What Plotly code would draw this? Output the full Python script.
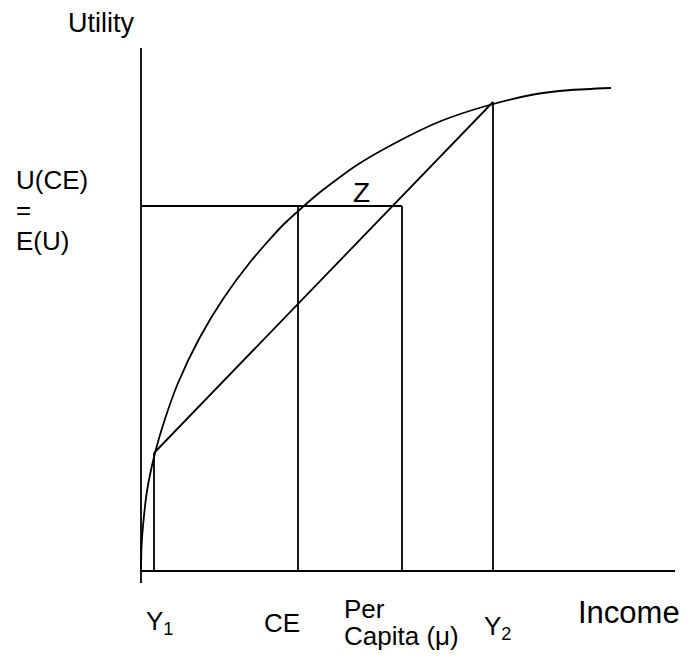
import plotly.graph_objects as go

# Abstract units: income (x) measured from the utility axis, utility (y) from the income axis
curve_income = [0, 0.5, 2, 6, 14, 24, 37, 58, 82, 110, 142, 178, 216, 258, 300, 345, 390, 430, 470]
curve_utility = [0, 24, 45, 80, 118, 152, 188, 232, 272, 310, 346, 378, 406, 430, 450, 465, 476, 481, 483]

income_points = {"Y1": 13, "CE": 157, "mu": 261, "Y2": 352}
utility_points = {"U_Y1": 118, "U_CE": 365, "U_Y2": 469}
axis_income_max = 534
axis_utility_max = 523
axis_utility_min = -12

BLACK = "#000000"
LW = 1.8
FONT = "Liberation Sans, Arial, sans-serif"

# the page adds an 8px body margin; the figure is sized to fit inside it
PAGE_OFF = 8
W, H = 687 - PAGE_OFF, 661 - PAGE_OFF
ORIGIN_X, ORIGIN_Y = 141 - PAGE_OFF, 571 - PAGE_OFF

fig = go.Figure()

def seg(xs, ys):
    fig.add_trace(go.Scatter(x=xs, y=ys, mode="lines",
                             line=dict(color=BLACK, width=LW),
                             hoverinfo="skip", showlegend=False))

# axes
seg([0, 0], [axis_utility_min, axis_utility_max])
seg([0, axis_income_max], [0, 0])

# utility curve
fig.add_trace(go.Scatter(x=curve_income, y=curve_utility, mode="lines",
                         line=dict(color=BLACK, width=LW, shape="spline", smoothing=0.6),
                         hoverinfo="skip", showlegend=False))

y1, ce, mu, y2 = income_points["Y1"], income_points["CE"], income_points["mu"], income_points["Y2"]
u1, uce, u2 = utility_points["U_Y1"], utility_points["U_CE"], utility_points["U_Y2"]

# chord
seg([y1, y2], [u1, u2])
# verticals
seg([y1, y1], [0, u1])
seg([ce, ce], [0, uce])
seg([mu, mu], [0, uce])
seg([y2, y2], [0, u2])
# horizontal U(CE) line
seg([0, mu], [uce, uce])

# labels: (text, left px, center px, size) in page pixels
labels = [
    ("Utility", 67, 23, 27),
    ("U(CE)", 15, 180, 26),
    ("=", 15, 210, 26),
    ("E(U)", 15, 241, 26),
    ("Z", 352, 192, 28),
    ("Y<sub>1</sub>", 145, 622, 26),
    ("CE", 263, 623, 26),
    ("Per", 343, 609, 26),
    ("Capita (μ)", 343, 636, 26),
    ("Y<sub>2</sub>", 483, 627, 26),
    ("Income", 577, 612, 31),
]
for text, px, py, size in labels:
    fig.add_annotation(x=px - 141, y=571 - py, xref="x", yref="y", text=text,
                       showarrow=False, xanchor="left", yanchor="middle",
                       font=dict(family=FONT, size=size, color=BLACK), borderpad=0)

fig.update_layout(
    width=W, height=H,
    margin=dict(l=0, r=0, t=0, b=0, pad=0),
    paper_bgcolor="white", plot_bgcolor="white",
    xaxis=dict(range=[-ORIGIN_X, W - ORIGIN_X], visible=False, fixedrange=True),
    yaxis=dict(range=[ORIGIN_Y - H, ORIGIN_Y], visible=False, fixedrange=True),
    showlegend=False,
)

fig.write_html("out.html")
